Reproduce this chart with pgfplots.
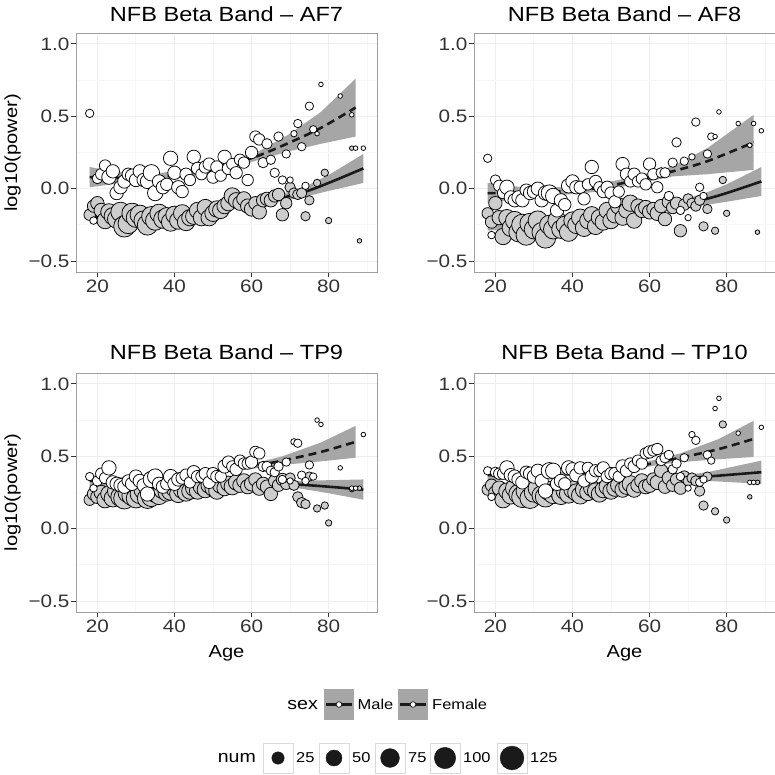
\documentclass[border=0pt]{standalone}
\usepackage{fontspec}
\setmainfont{Liberation Sans}[FakeStretch=1.15]
\usepackage{pgfplots}
\usepackage{pgfplotstable}
\pgfplotsset{compat=1.18}

\definecolor{ptgray}{HTML}{CDCDCD}
\definecolor{ribc}{HTML}{A6A6A6}
\definecolor{gridmaj}{HTML}{EEEEEE}
\definecolor{gridmin}{HTML}{F7F7F7}
\definecolor{border}{HTML}{A0A0A0}
\definecolor{tickc}{HTML}{333333}
\definecolor{linec}{HTML}{1A1A1A}
\definecolor{keybox}{HTML}{D9D9D9}

% Female: age r af7 af8 tp9 tp10
\pgfplotstableread{
age r af7 af8 tp9 tp10
18 4.2 0.52 0.21 0.36 0.40
19 3.8 -0.22 -0.32 0.28 0.22
20 5.2 0.07 0.06 0.33 0.39
21 5.7 0.10 0.02 0.38 0.38
22 5.7 0.16 -0.03 0.35 0.38
23 7.2 0.08 0.01 0.42 0.42
24 6.7 0.12 -0.06 0.32 0.37
25 6.7 -0.03 -0.08 0.31 0.36
26 6.7 0.01 -0.06 0.30 0.34
27 6.7 0.05 -0.08 0.29 0.32
28 6.2 0.10 -0.01 0.33 0.39
29 6.7 0.09 -0.03 0.31 0.38
30 6.7 0.06 -0.02 0.36 0.36
31 6.7 0.12 0.00 0.33 0.40
32 6.7 0.06 -0.08 0.30 0.33
33 7.2 0.05 -0.03 0.24 0.26
34 8.2 0.11 -0.03 0.34 0.40
35 7.7 -0.03 -0.05 0.36 0.40
36 6.7 0.05 -0.15 0.31 0.31
37 6.7 0.01 -0.08 0.29 0.33
38 6.2 0.03 -0.11 0.31 0.31
39 7.2 0.21 0.02 0.36 0.42
40 6.7 0.11 0.05 0.31 0.41
41 6.7 0.01 0.01 0.34 0.37
42 6.2 -0.02 0.01 0.35 0.42
43 6.2 0.10 -0.07 0.37 0.33
44 5.7 0.06 0.03 0.32 0.42
45 6.7 0.22 0.15 0.39 0.36
46 6.2 0.14 0.05 0.36 0.40
47 5.7 0.10 0.01 0.36 0.40
48 6.2 0.15 -0.02 0.38 0.42
49 6.2 0.17 0.01 0.32 0.36
50 6.2 0.08 -0.03 0.38 0.38
51 6.2 0.15 -0.09 0.36 0.38
52 5.7 0.09 -0.02 0.36 0.36
53 6.7 0.22 0.17 0.43 0.43
54 6.2 0.14 0.10 0.46 0.40
55 5.7 0.17 0.05 0.43 0.45
56 6.2 0.11 0.10 0.41 0.43
57 5.7 0.20 0.05 0.47 0.47
58 5.7 0.18 0.07 0.45 0.45
59 5.7 0.06 0.03 0.45 0.52
60 6.2 0.25 0.17 0.46 0.53
61 5.7 0.36 0.10 0.53 0.54
62 5.7 0.34 0.01 0.52 0.55
63 5.2 0.18 0.11 0.43 0.47
64 5.2 0.31 0.11 0.43 0.49
65 4.7 0.20 -0.05 0.40 0.51
66 4.7 0.11 0.18 0.39 0.41
67 4.7 0.36 0.32 0.43 0.45
68 4.2 0.06 -0.15 0.34 0.36
69 4.2 0.24 0.19 0.46 0.49
70 3.2 0.06 -0.20 0.33 0.28
71 3.2 0.38 0.22 0.60 0.65
72 4.2 0.45 0.46 0.59 0.61
73 4.2 0.29 0.01 0.37 0.32
74 3.7 0.02 -0.05 0.33 0.34
75 4.2 0.57 0.24 0.44 0.51
76 3.7 0.41 0.36 0.36 0.47
77 2.3 0.38 0.36 0.75 0.83
78 2.3 0.72 0.53 0.72 0.90
83 2.3 0.64 0.45 0.42 0.66
86 2.3 0.51 0.30 0.28 0.32
87 2.3 0.28 0.45 0.28 0.32
89 2.3 0.28 0.40 0.65 0.70
}\femtab

% Male: age r af7 af8 tp9 tp10
\pgfplotstableread{
age r af7 af8 tp9 tp10
18 5.7 -0.18 -0.17 0.20 0.27
19 6.2 -0.12 -0.23 0.24 0.30
20 6.7 -0.10 -0.10 0.22 0.25
21 7.2 -0.15 -0.20 0.25 0.28
22 8.2 -0.22 -0.33 0.20 0.20
23 8.2 -0.16 -0.20 0.24 0.26
24 8.7 -0.19 -0.27 0.21 0.23
25 9.2 -0.21 -0.22 0.26 0.28
26 9.7 -0.16 -0.30 0.22 0.24
27 10.7 -0.26 -0.25 0.21 0.22
28 10.2 -0.24 -0.32 0.25 0.26
29 10.2 -0.17 -0.24 0.23 0.21
30 9.7 -0.20 -0.28 0.21 0.25
31 9.7 -0.18 -0.22 0.24 0.28
32 9.7 -0.22 -0.30 0.27 0.23
33 10.2 -0.25 -0.34 0.21 0.22
34 9.7 -0.19 -0.25 0.22 0.26
35 9.7 -0.22 -0.28 0.25 0.24
36 9.2 -0.17 -0.22 0.23 0.27
37 9.2 -0.21 -0.28 0.27 0.23
38 8.7 -0.19 -0.25 0.25 0.26
39 9.2 -0.23 -0.30 0.26 0.24
40 8.7 -0.18 -0.22 0.28 0.27
41 8.7 -0.22 -0.25 0.24 0.25
42 8.7 -0.17 -0.20 0.27 0.23
43 8.7 -0.23 -0.27 0.25 0.27
44 8.2 -0.20 -0.22 0.26 0.25
45 8.2 -0.19 -0.18 0.28 0.28
46 8.2 -0.15 -0.26 0.26 0.26
47 8.2 -0.20 -0.20 0.29 0.24
48 8.2 -0.13 -0.23 0.27 0.27
49 8.2 -0.20 -0.15 0.30 0.29
50 8.2 -0.17 -0.22 0.28 0.26
51 8.2 -0.14 -0.18 0.26 0.28
52 8.2 -0.15 -0.12 0.30 0.30
53 7.7 -0.12 -0.20 0.28 0.27
54 7.7 -0.10 -0.15 0.31 0.29
55 8.2 -0.05 -0.10 0.29 0.31
56 7.7 -0.08 -0.22 0.32 0.27
57 7.2 -0.10 -0.12 0.30 0.30
58 7.2 -0.07 -0.15 0.33 0.33
59 7.2 -0.12 -0.13 0.29 0.29
60 7.2 -0.14 -0.16 0.31 0.30
61 6.7 -0.10 -0.14 0.34 0.34
62 7.2 -0.16 -0.17 0.28 0.32
63 6.7 -0.08 -0.12 0.31 0.40
64 6.7 -0.07 -0.21 0.29 0.29
65 6.7 -0.08 -0.09 0.24 0.35
66 6.2 -0.05 -0.13 0.33 0.30
67 6.2 -0.04 -0.10 0.30 0.34
68 6.2 -0.18 -0.29 0.34 0.28
69 5.7 -0.10 -0.11 0.31 0.36
70 5.2 0.01 -0.07 0.35 0.33
71 5.2 -0.03 -0.10 0.30 0.35
72 5.2 -0.04 -0.12 0.22 0.33
73 5.2 -0.03 -0.08 0.18 0.26
74 4.7 -0.19 -0.26 0.17 0.16
75 4.7 -0.08 -0.14 0.36 0.36
77 3.7 0.04 -0.29 0.14 0.12
79 3.7 0.11 0.06 0.16 0.72
80 3.2 -0.22 -0.17 0.04 0.06
86 2.3 0.28 0.30 0.27 0.22
88 2.3 -0.36 -0.30 0.28 0.32
}\maltab

% smooth-fit centre lines
\pgfplotstableread{
a c
18 -0.19
30 -0.20
45 -0.17
55 -0.12
65 -0.08
74 -0.02
80 0.04
85 0.095
89 0.14
}\cAFsM
\pgfplotstableread{
a c
18 0.08
25 0.075
35 0.08
45 0.11
55 0.17
62 0.23
70 0.32
78 0.42
87 0.56
}\cAFsF
\pgfplotstableread{
a c
18 -0.24
30 -0.24
40 -0.22
55 -0.17
65 -0.12
74 -0.075
80 -0.03
89 0.05
}\cAFeM
\pgfplotstableread{
a c
18 -0.03
30 -0.03
45 0.00
55 0.05
66 0.12
75 0.19
87 0.32
}\cAFeF
\pgfplotstableread{
a c
18 0.22
30 0.23
40 0.26
55 0.30
65 0.31
72 0.305
80 0.29
89 0.27
}\cTPnM
\pgfplotstableread{
a c
18 0.33
30 0.33
40 0.35
55 0.41
62 0.44
68 0.47
78 0.53
87 0.60
}\cTPnF
\pgfplotstableread{
a c
18 0.25
30 0.25
40 0.27
55 0.30
65 0.34
75 0.36
89 0.39
}\cTPtM
\pgfplotstableread{
a c
18 0.37
30 0.37
40 0.38
55 0.42
62 0.46
68 0.49
78 0.55
87 0.62
}\cTPtF

\pgfplotsset{
  panel/.style={
    width=301pt, height=239pt, scale only axis,
    xmin=14.45, xmax=92.55, ymin=-0.575, ymax=1.075,
    xtick={20,40,60,80}, xticklabels={20,40,60,80},
    ytick={-0.5,0,0.5,1}, yticklabels={−0.5,0.0,0.5,1.0},
    minor xtick={30,50,70,90}, minor ytick={-0.25,0.25,0.75},
    grid=both,
    major grid style={draw=gridmaj, line width=0.9pt},
    minor grid style={draw=gridmin, line width=0.9pt},
    axis line style={draw=border, line width=0.9pt},
    tick align=outside, major tick length=5pt, minor tick length=0pt,
    major tick style={draw=tickc, line width=0.9pt},
    tick pos=left,
    ticklabel style={font=\fontsize{18}{18}\selectfont, text=tickc},
    yticklabel style={xshift=2pt},
    xticklabel style={yshift=1pt},
  },
  malepts/.style={scatter, only marks, mark=*,
    scatter/use mapped color={draw=black, fill=ptgray, line width=0.75pt},
    visualization depends on={\thisrow{r} \as \prad},
    scatter/@pre marker code/.append style={/tikz/mark size=\prad}},
  fempts/.style={scatter, only marks, mark=*,
    scatter/use mapped color={draw=black, fill=white, line width=0.75pt},
    visualization depends on={\thisrow{r} \as \prad},
    scatter/@pre marker code/.append style={/tikz/mark size=\prad}},
  fitM/.style={draw=linec, line width=2.6pt, smooth},
  fitF/.style={draw=linec, line width=2.6pt, smooth, dash pattern=on 8pt off 5pt},
  rib/.style={fill=ribc, draw=none},
}

\begin{document}
\begin{tikzpicture}
\path[use as bounding box] (0pt,0pt) rectangle (775pt,774pt);

% ---- AF7
\begin{axis}[panel, at={(76pt,502pt)}, anchor=south west]
\addplot[rib] coordinates {(18,-0.15) (30,-0.185) (45,-0.155) (55,-0.105) (65,-0.06) (74,0.015) (80,0.095) (85,0.175) (89,0.24)
  (89,0.04) (85,0.015) (80,-0.015) (74,-0.055) (65,-0.10) (55,-0.135) (45,-0.185) (30,-0.215) (18,-0.23)};
\addplot[rib] coordinates {(18,0.15) (25,0.115) (35,0.105) (45,0.135) (55,0.195) (62,0.26) (70,0.38) (78,0.53) (87,0.76)
  (87,0.36) (78,0.31) (70,0.26) (62,0.20) (55,0.145) (45,0.085) (35,0.055) (25,0.035) (18,0.01)};
\addplot[fitM] table[x=a,y=c]{\cAFsM};
\addplot[fitF] table[x=a,y=c]{\cAFsF};
\addplot[malepts] table[x=age,y=af7]{\maltab};
\addplot[fempts] table[x=age,y=af7]{\femtab};
\end{axis}

% ---- AF8
\begin{axis}[panel, at={(474pt,502pt)}, anchor=south west]
\addplot[rib] coordinates {(18,-0.19) (30,-0.22) (40,-0.205) (55,-0.155) (65,-0.10) (74,-0.035) (80,0.03) (89,0.15)
  (89,-0.05) (80,-0.09) (74,-0.115) (65,-0.14) (55,-0.185) (40,-0.235) (30,-0.26) (18,-0.29)};
\addplot[rib] coordinates {(18,0.04) (30,0.00) (45,0.025) (55,0.075) (66,0.155) (75,0.28) (87,0.51)
  (87,0.13) (75,0.10) (66,0.085) (55,0.025) (45,-0.025) (30,-0.06) (18,-0.10)};
\addplot[fitM] table[x=a,y=c]{\cAFeM};
\addplot[fitF] table[x=a,y=c]{\cAFeF};
\addplot[malepts] table[x=age,y=af8]{\maltab};
\addplot[fempts] table[x=age,y=af8]{\femtab};
\end{axis}

% ---- TP9
\begin{axis}[panel, at={(76pt,162pt)}, anchor=south west]
\addplot[rib] coordinates {(18,0.25) (30,0.245) (40,0.272) (55,0.312) (65,0.325) (72,0.33) (80,0.335) (89,0.34)
  (89,0.20) (80,0.245) (72,0.28) (65,0.295) (55,0.288) (40,0.248) (30,0.215) (18,0.19)};
\addplot[rib] coordinates {(18,0.37) (30,0.35) (40,0.365) (55,0.425) (62,0.46) (68,0.50) (78,0.595) (87,0.71)
  (87,0.49) (78,0.465) (68,0.44) (62,0.42) (55,0.395) (40,0.335) (30,0.31) (18,0.29)};
\addplot[fitM] table[x=a,y=c]{\cTPnM};
\addplot[fitF] table[x=a,y=c]{\cTPnF};
\addplot[malepts] table[x=age,y=tp9]{\maltab};
\addplot[fempts] table[x=age,y=tp9]{\femtab};
\end{axis}

% ---- TP10
\begin{axis}[panel, at={(474pt,162pt)}, anchor=south west]
\addplot[rib] coordinates {(18,0.28) (30,0.265) (40,0.282) (55,0.312) (65,0.355) (75,0.39) (89,0.47)
  (89,0.31) (75,0.33) (65,0.325) (55,0.288) (40,0.258) (30,0.235) (18,0.22)};
\addplot[rib] coordinates {(18,0.41) (30,0.39) (40,0.395) (55,0.435) (62,0.48) (68,0.52) (78,0.62) (87,0.745)
  (87,0.495) (78,0.48) (68,0.46) (62,0.44) (55,0.405) (40,0.365) (30,0.35) (18,0.33)};
\addplot[fitM] table[x=a,y=c]{\cTPtM};
\addplot[fitF] table[x=a,y=c]{\cTPtF};
\addplot[malepts] table[x=age,y=tp10]{\maltab};
\addplot[fempts] table[x=age,y=tp10]{\femtab};
\end{axis}

% titles and labels
\begin{scope}[every node/.style={inner sep=0pt}]
\node[font=\fontsize{20.5}{22}\selectfont] at (226.5pt,760pt) {NFB Beta Band – AF7};
\node[font=\fontsize{20.5}{22}\selectfont] at (624.5pt,760pt) {NFB Beta Band – AF8};
\node[font=\fontsize{20.5}{22}\selectfont] at (226.5pt,422pt) {NFB Beta Band – TP9};
\node[font=\fontsize{20.5}{22}\selectfont] at (624.5pt,422pt) {NFB Beta Band – TP10};
\node[font=\fontsize{17.5}{18}\selectfont] at (226.5pt,121pt) {Age};
\node[font=\fontsize{17.5}{18}\selectfont] at (624.5pt,121pt) {Age};
\node[rotate=90, font=\fontsize{17.5}{18}\selectfont] at (12.5pt,621pt) {log10(power)};
\node[rotate=90, font=\fontsize{17.5}{18}\selectfont] at (12.5pt,281.5pt) {log10(power)};
% sex legend
\node[anchor=east, font=\fontsize{17}{18}\selectfont] at (318pt,69pt) {sex};
\node[anchor=west, font=\fontsize{14.3}{15}\selectfont] at (357.5pt,69.5pt) {Male};
\node[anchor=west, font=\fontsize{14.3}{15}\selectfont] at (432pt,69.5pt) {Female};
% num legend
\node[anchor=east, font=\fontsize{17}{18}\selectfont] at (256pt,15.5pt) {num};
\node[anchor=west, font=\fontsize{14.3}{15}\selectfont] at (296pt,16pt) {25};
\node[anchor=west, font=\fontsize{14.3}{15}\selectfont] at (352pt,16pt) {50};
\node[anchor=west, font=\fontsize{14.3}{15}\selectfont] at (408pt,16pt) {75};
\node[anchor=west, font=\fontsize{14.3}{15}\selectfont] at (463pt,16pt) {100};
\node[anchor=west, font=\fontsize{14.3}{15}\selectfont] at (530pt,16pt) {125};
\end{scope}

% legend key backgrounds
\fill[ribc] (324pt,54pt) rectangle (354pt,85pt);
\fill[ribc] (398pt,54pt) rectangle (428pt,85pt);
\foreach \bx in {263,319,375,430,497}
  \draw[keybox, fill=white, line width=0.9pt] (\bx pt,1pt) rectangle ++(30pt,30pt);

% legend keys drawn through an invisible axis
\begin{axis}[at={(0pt,0pt)}, anchor=south west, width=775pt, height=774pt,
  scale only axis, xmin=0, xmax=775, ymin=0, ymax=774, hide axis, clip=false]
\addplot[draw=linec, line width=2.8pt] coordinates {(326,69.5) (352,69.5)};
\addplot[draw=linec, line width=2.8pt] coordinates {(400,69.5) (426,69.5)};
\addplot[only marks, mark=*, mark size=2.8pt, mark options={fill=white, draw=black, line width=0.6pt}]
  coordinates {(339,69.5) (413,69.5)};
\addplot[scatter, only marks, mark=*,
  scatter/use mapped color={draw=linec, fill=linec},
  visualization depends on={\thisrow{r} \as \prad},
  scatter/@pre marker code/.append style={/tikz/mark size=\prad}] table {
x y r
278 16 6.2
334 16 8.0
390 16 9.4
445 16 10.7
512 16 11.9
};
\end{axis}
\end{tikzpicture}
\end{document}
